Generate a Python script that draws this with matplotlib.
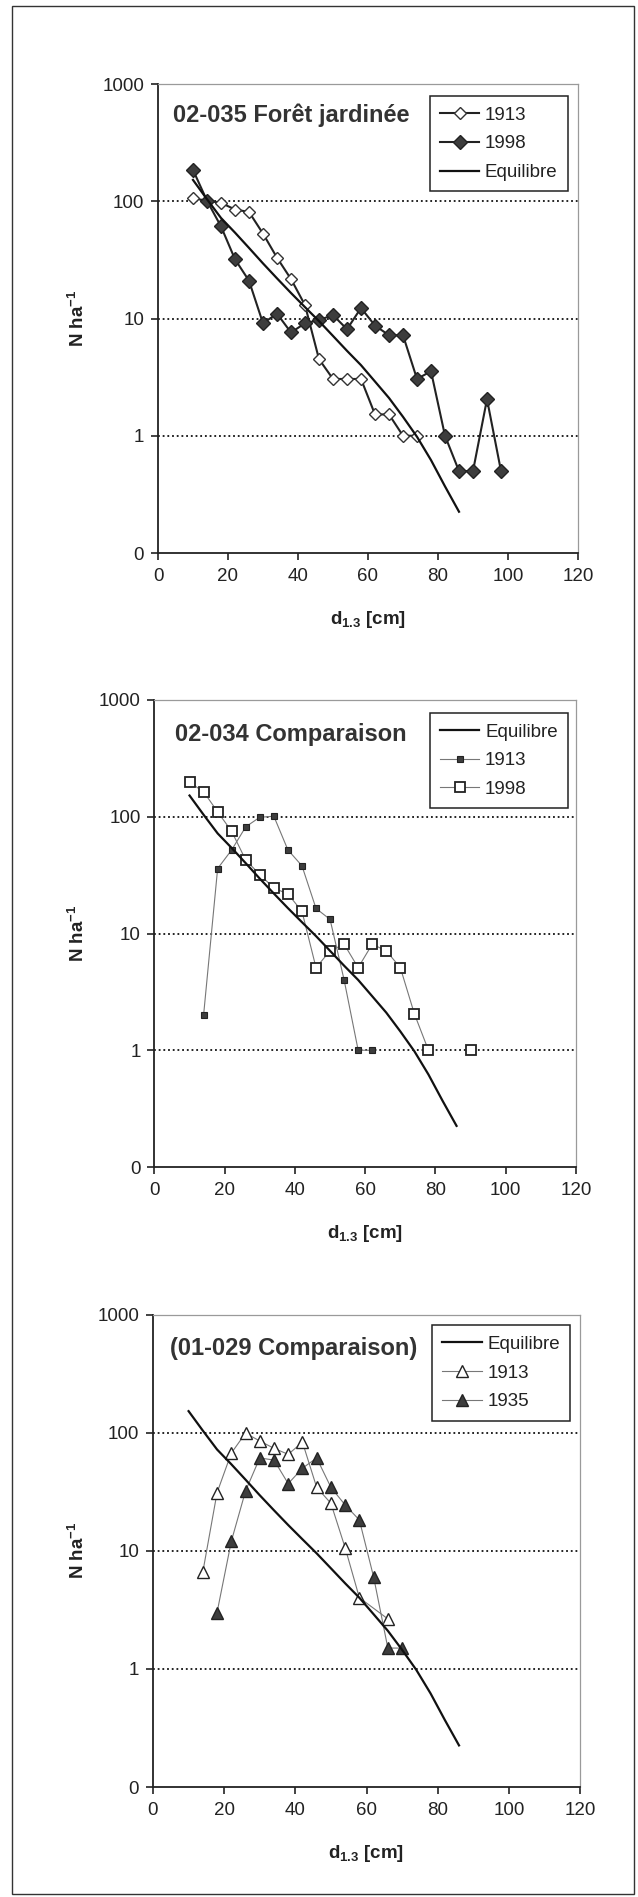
import matplotlib
matplotlib.use('Agg')
import matplotlib.pyplot as plt
import numpy as np
from matplotlib.ticker import FixedLocator, FixedFormatter, NullLocator
from matplotlib.patches import Rectangle

plt.rcParams['font.family'] = ['Liberation Sans', 'DejaVu Sans']
plt.rcParams['mathtext.fontset'] = 'custom'
plt.rcParams['mathtext.rm'] = 'Liberation Sans:bold'
plt.rcParams['mathtext.it'] = 'Liberation Sans:bold'
plt.rcParams['mathtext.bf'] = 'Liberation Sans:bold'

# ---------------- data ----------------
# Equilibrium curve (same in every panel)
eq_d = [10, 14, 18, 22, 26, 30, 34, 38, 42, 46, 50, 54, 58, 62, 66, 70, 74, 78, 82, 86]
eq_n = [152, 104, 72, 54, 40, 29.5, 22, 16.5, 12.5, 9.5, 7.1, 5.3, 4.0, 2.9, 2.1, 1.45, 0.98, 0.62, 0.37, 0.225]

# Panel 1: 02-035 Forêt jardinée
p1_d1913 = [10, 14, 18, 22, 26, 30, 34, 38, 42, 46, 50, 54, 58, 62, 66, 70, 74]
p1_n1913 = [106, 101, 97, 85, 81, 53, 33, 21.7, 13, 4.5, 3.05, 3.05, 3.05, 1.52, 1.52, 1.0, 1.0]
p1_d1998 = [10, 14, 18, 22, 26, 30, 34, 38, 42, 46, 50, 54, 58, 62, 66, 70, 74, 78, 82, 86, 90, 94, 98]
p1_n1998 = [185, 101, 61, 32, 21, 9.1, 11, 7.6, 9.1, 9.7, 10.7, 8.1, 12.3, 8.7, 7.2, 7.2, 3.05, 3.55, 1.0, 0.5, 0.5, 2.05, 0.5]

# Panel 2: 02-034 Comparaison
p2_d1913 = [14, 18, 22, 26, 30, 34, 38, 42, 46, 50, 54, 58, 62]
p2_n1913 = [2.0, 36, 52, 82, 99, 101, 52, 38, 16.4, 13.2, 4.0, 1.0, 1.0]
p2_d1998 = [10, 14, 18, 22, 26, 30, 34, 38, 42, 46, 50, 54, 58, 62, 66, 70, 74, 78, 82, 86, 90]
p2_n1998 = [197, 164, 110, 75, 42.5, 32, 24.5, 21.8, 15.5, 5.1, 7.1, 8.1, 5.1, 8.1, 7.1, 5.1, 2.05, 1.0,
            np.nan, np.nan, 1.0]

# Panel 3: (01-029 Comparaison)
p3_d1913 = [14, 18, 22, 26, 30, 34, 38, 42, 46, 50, 54, 58, 66]
p3_n1913 = [6.6, 31, 67, 99, 85, 73.6, 65.5, 83, 34.4, 25.2, 10.6, 4.0, 2.65]
p3_d1935 = [18, 22, 26, 30, 34, 38, 42, 46, 50, 54, 58, 62, 66, 70]
p3_n1935 = [3.0, 12, 32, 61, 58.6, 37, 50, 61, 34.4, 24.4, 18.2, 6.0, 1.5, 1.5]

titles = ['02-035 Forêt jardinée', '02-034 Comparaison', '(01-029 Comparaison)']
ytick_vals = [0.1, 1, 10, 100, 1000]
ytick_labels = ['0', '1', '10', '100', '1000']
xtick_vals = [0, 20, 40, 60, 80, 100, 120]
grid_levels = [1, 10, 100]

# ---------------- figure ----------------
W, H = 638, 1897
fig = plt.figure(figsize=(W / 100, H / 100), dpi=100)
fig.patches.append(Rectangle((12 / W, 1 - 1894 / H), (634 - 12) / W, (1894 - 6) / H,
                             transform=fig.transFigure, fill=False, ec='#333333', lw=1.0))

DARK = '#222222'
FILL = '#3d3d3d'


def make_axes(l, r, t, b):
    ax = fig.add_axes([l / W, 1 - b / H, (r - l) / W, (b - t) / H])
    ax.set_yscale('log')
    ax.set_xlim(0, 120)
    ax.set_ylim(0.1, 1000)
    ax.xaxis.set_major_locator(FixedLocator(xtick_vals))
    ax.yaxis.set_major_locator(FixedLocator(ytick_vals))
    ax.yaxis.set_major_formatter(FixedFormatter(ytick_labels))
    ax.yaxis.set_minor_locator(NullLocator())
    ax.xaxis.set_minor_locator(NullLocator())
    ax.tick_params(direction='out', length=5, width=1.2, color=DARK, labelsize=13.5,
                   labelcolor=DARK, top=False, right=False)
    ax.tick_params(axis='x', pad=6)
    ax.tick_params(axis='y', pad=5)
    for s in ('top', 'right'):
        ax.spines[s].set_color('#9a9a9a')
        ax.spines[s].set_linewidth(0.9)
    for s in ('left', 'bottom'):
        ax.spines[s].set_color(DARK)
        ax.spines[s].set_linewidth(1.3)
    for g in grid_levels:
        ax.axhline(g, color='#111111', lw=1.3, dashes=(1, 1.6), zorder=1)
    hpx = b - t
    wpx = r - l
    ax.set_xlabel(r'd$_{1.3}$ [cm]', fontsize=13.5, fontweight='bold', color=DARK)
    ax.xaxis.set_label_coords(0.5, -66 / hpx)
    ax.xaxis.label.set_va('center')
    ax.set_ylabel(r'N ha$^{-1}$', fontsize=13.5, fontweight='bold', color=DARK)
    ax.yaxis.set_label_coords((78 - l) / wpx, 0.5)
    ax.yaxis.label.set_va('center')
    return ax


def add_legend(ax, handles, labels, anchor):
    leg = ax.legend(handles, labels, loc='upper right', bbox_to_anchor=anchor, borderaxespad=0,
                    fontsize=13.5, frameon=True, fancybox=False, edgecolor=DARK,
                    handlelength=2.1, handletextpad=0.3, labelspacing=0.62, borderpad=0.55,
                    framealpha=1)
    leg.get_frame().set_linewidth(1.1)
    for t in leg.get_texts():
        t.set_color(DARK)
    return leg


# Panel 1
ax1 = make_axes(158, 578, 84, 553)
h13, = ax1.plot(p1_d1913, p1_n1913, color=DARK, lw=1.5, marker='D', ms=6.5,
                mfc='white', mec='#333333', mew=1.0, zorder=3)
h98, = ax1.plot(p1_d1998, p1_n1998, color=DARK, lw=1.5, marker='D', ms=7.5,
                mfc=FILL, mec=DARK, mew=1.0, zorder=4)
heq, = ax1.plot(eq_d, eq_n, color='#111111', lw=1.6, zorder=5)
ax1.text(0.036, 0.934, titles[0], transform=ax1.transAxes, fontsize=17, fontweight='bold',
         color='#333333', ha='left', va='center')
add_legend(ax1, [h13, h98, heq], ['1913', '1998', 'Equilibre'], (0.976, 0.974))

# Panel 2
ax2 = make_axes(154.4, 576, 700, 1167)
heq, = ax2.plot(eq_d, eq_n, color='#111111', lw=1.6, zorder=5)
h13, = ax2.plot(p2_d1913, p2_n1913, color='#777777', lw=0.8, marker='s', ms=5,
                mfc=FILL, mec=DARK, mew=0.8, zorder=3)
h98, = ax2.plot(p2_d1998, p2_n1998, color='#777777', lw=0.8, marker='s', ms=7.5,
                mfc='white', mec=DARK, mew=1.3, zorder=4)
ax2.text(0.049, 0.927, titles[1], transform=ax2.transAxes, fontsize=17, fontweight='bold',
         color='#333333', ha='left', va='center')
leg = add_legend(ax2, [heq, h13, h98], ['Equilibre', '1913', '1998'], (0.981, 0.972))

# Panel 3
ax3 = make_axes(153, 580, 1314.5, 1787)
heq, = ax3.plot(eq_d, eq_n, color='#111111', lw=1.6, zorder=5)
h13, = ax3.plot(p3_d1913, p3_n1913, color='#777777', lw=0.8, marker='^', ms=8.5,
                mfc='white', mec=DARK, mew=1.0, zorder=3)
h35, = ax3.plot(p3_d1935, p3_n1935, color='#777777', lw=0.8, marker='^', ms=8.5,
                mfc=FILL, mec=DARK, mew=1.0, zorder=4)
ax3.text(0.04, 0.928, titles[2], transform=ax3.transAxes, fontsize=17, fontweight='bold',
         color='#333333', ha='left', va='center')
add_legend(ax3, [heq, h13, h35], ['Equilibre', '1913', '1935'], (0.977, 0.977))

fig.savefig('out.png', dpi=100, facecolor='white')
